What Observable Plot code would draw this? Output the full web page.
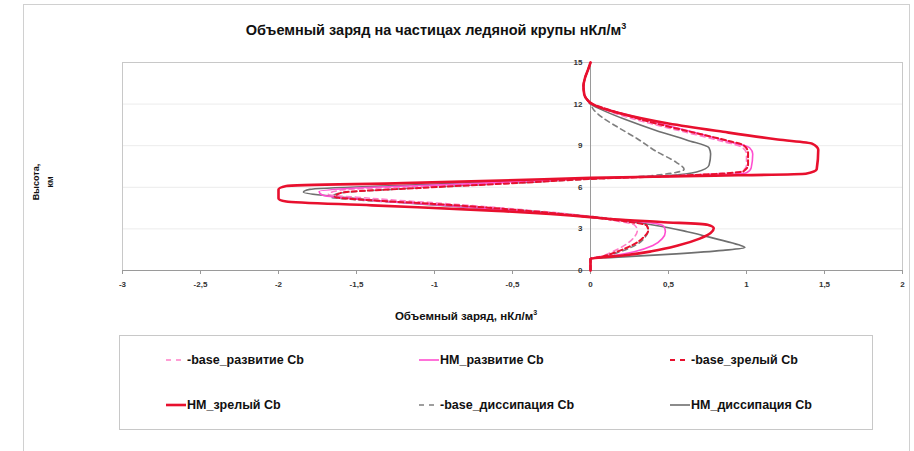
<!DOCTYPE html>
<html><head><meta charset="utf-8">
<script src="https://cdn.jsdelivr.net/npm/d3@7"></script>
<script src="https://cdn.jsdelivr.net/npm/@observablehq/plot@0.6"></script>
<style>
body{margin:0;background:#fff;font-family:"Liberation Sans",Arial,sans-serif;}
#wrap{position:relative;width:914px;height:451px;overflow:hidden;}
#border{position:absolute;left:23px;top:4px;width:885px;height:460px;border:1px solid #d0d0d0;}
#title{position:absolute;left:0;width:872px;top:21px;text-align:center;font-weight:bold;font-size:14.5px;color:#111;}
#chart{position:absolute;left:0;top:0;}
#xtitle{position:absolute;left:0;width:932px;top:309px;text-align:center;font-weight:bold;font-size:11.5px;color:#111;}
#ytitle{position:absolute;left:22px;top:160px;width:40px;height:45px;}
#legend{position:absolute;left:119px;top:335px;width:752px;height:93px;border:1px solid #c8c8c8;}
.item{position:absolute;font-weight:bold;font-size:12.5px;color:#111;white-space:nowrap;display:flex;align-items:center;}
.item svg{margin-right:1px;}
</style></head>
<body><div id="wrap">
<div id="border"></div>
<div id="chart"></div>
<div id="title">Объемный заряд на частицах ледяной крупы нКл/м<sup style="font-size:9px">3</sup></div>
<div id="xtitle">Объемный заряд, нКл/м<sup style="font-size:7px">3</sup></div>
<svg id="ytitle" width="40" height="60"><text transform="translate(17,22) rotate(-90)" text-anchor="middle" font-weight="bold" font-size="9" fill="#111">Высота,</text><text transform="translate(31,22) rotate(-90)" text-anchor="middle" font-weight="bold" font-size="9" fill="#111">км</text></svg>
<div id="legend"></div>
</div>
<script>
const xTicks = [-3,-2.5,-2,-1.5,-1,-0.5,0,0.5,1,1.5,2];
const yTicks = [0,3,6,9,12,15];
const seriesNames = ["base_развитие Cb","HM_развитие Cb","base_зрелый Cb","HM_зрелый Cb","base_диссипация Cb","HM_диссипация Cb"];

// [value nC/m3, height km]
const topTail = [[-0.02,12.3],[-0.04,12.7],[-0.045,13.3],[-0.035,13.9],[-0.015,14.5],[0,15]];
const baseDev = [[0,0],[0,0.85],[0.06,1.0],[0.15,1.4],[0.23,1.9],[0.28,2.4],[0.3,2.9],[0.28,3.3],[0.15,3.6],[0,3.9],[-0.35,4.3],[-0.9,4.8],[-1.4,5.2],[-1.68,5.5],[-1.6,5.8],[-1.0,6.1],[-0.3,6.45],[0,6.65],[0.55,6.85],[0.97,7.15],[1.0,7.6],[1.0,8.4],[0.97,8.9],[0.85,9.3],[0.6,10.0],[0.35,10.7],[0.14,11.4],[0.03,11.9],[0,12.1]];
const hmDev = [[0,0],[0,0.85],[0.1,1.0],[0.28,1.35],[0.4,1.8],[0.46,2.3],[0.48,2.8],[0.47,3.2],[0.38,3.45],[0.15,3.7],[0,3.85],[-0.4,4.25],[-1.0,4.75],[-1.5,5.15],[-1.72,5.45],[-1.74,5.7],[-1.5,5.95],[-0.8,6.25],[-0.2,6.55],[0,6.65],[0.6,6.8],[1.0,7.05],[1.03,7.4],[1.04,8.4],[1.02,8.85],[0.92,9.2],[0.72,9.8],[0.48,10.5],[0.25,11.2],[0.08,11.7],[0,12.05]];
const baseMature = [[0,0],[0,0.85],[0.07,1.0],[0.18,1.4],[0.28,1.9],[0.34,2.4],[0.37,2.9],[0.36,3.25],[0.22,3.55],[0,3.85],[-0.4,4.3],[-1.0,4.8],[-1.45,5.1],[-1.64,5.3],[-1.6,5.6],[-1.1,5.95],[-0.4,6.35],[0,6.6],[0.6,6.85],[0.98,7.15],[1.01,7.6],[1.01,8.5],[0.98,9.05],[0.9,9.3],[0.68,9.9],[0.42,10.6],[0.2,11.3],[0.05,11.85],[0,12.05]];
const hmMature = [[0,0],[0,0.85],[0.08,0.95],[0.22,1.1],[0.4,1.4],[0.56,1.8],[0.7,2.3],[0.77,2.7],[0.79,3.05],[0.75,3.3],[0.45,3.5],[0.15,3.7],[0,3.85],[-0.6,4.3],[-1.4,4.7],[-1.95,4.98],[-2.0,5.2],[-2.0,5.85],[-1.95,6.1],[-1.2,6.3],[-0.3,6.58],[0,6.68],[0.7,6.82],[1.38,6.98],[1.45,7.3],[1.46,8.7],[1.42,9.15],[1.2,9.45],[0.85,10.0],[0.5,10.6],[0.2,11.3],[0.05,11.8],[0,12.1]];
const baseDiss = [[0,0],[0,0.85],[0.08,1.0],[0.2,1.4],[0.3,1.9],[0.35,2.4],[0.37,2.9],[0.36,3.3],[0.22,3.6],[0,3.9],[-0.45,4.35],[-1.05,4.8],[-1.5,5.1],[-1.66,5.28],[-1.62,5.55],[-1.2,5.9],[-0.5,6.3],[0,6.6],[0.4,6.85],[0.6,7.3],[0.55,7.8],[0.42,8.6],[0.3,9.5],[0.18,10.3],[0.08,11.0],[0.02,11.6],[0,12.0]];
const hmDiss = [[0,0],[0,0.85],[0.15,0.95],[0.55,1.2],[0.85,1.45],[0.99,1.65],[0.95,1.85],[0.8,2.3],[0.62,2.8],[0.42,3.25],[0.2,3.6],[0,3.85],[-0.45,4.3],[-1.1,4.8],[-1.6,5.3],[-1.84,5.65],[-1.8,5.85],[-1.2,6.15],[-0.4,6.5],[0,6.65],[0.5,6.85],[0.68,7.1],[0.76,7.6],[0.77,8.4],[0.76,8.85],[0.62,9.4],[0.42,10.1],[0.22,10.9],[0.07,11.6],[0,12.0]];

const styles = [
  {data: baseDev, stroke: "#ff7fc8", width: 1.6, dash: "5,4"},
  {data: hmDev, stroke: "#ff4fd0", width: 1.6, dash: null},
  {data: baseMature, stroke: "#e8102e", width: 2, dash: "5,3"},
  {data: hmMature, stroke: "#e8102e", width: 2.6, dash: null},
  {data: baseDiss, stroke: "#7f7f7f", width: 1.6, dash: "5,4"},
  {data: hmDiss, stroke: "#6f6f6f", width: 1.6, dash: null}
];
const drawOrder = [4,5,0,1,2,3];

const fmt = d => String(d).replace(".", ",");

const marks = [
  Plot.ruleY(yTicks.filter(d => d > 0 && d < 15), {stroke: "#ececec"}),
  Plot.frame({stroke: "#c8c8c8"}),
  Plot.ruleX([0], {stroke: "#9a9a9a"}),
  Plot.ruleY([0], {stroke: "#9a9a9a"}),
  Plot.text(yTicks, {x: 0, y: d => d, text: d => fmt(d), dx: -8, textAnchor: "end", fontSize: 8, fill: "#333"}),
  Plot.link(yTicks, {x1: 0, x2: 0, y1: d => d, y2: d => d, dx: -3, stroke: "#999"}),
  Plot.axisX({ticks: xTicks, tickFormat: fmt, tickSize: 4, tickPadding: 7, fontSize: 8, stroke: "#999", color: "#333", label: null})
];
for (const i of drawOrder) {
  const s = styles[i];
  marks.push(Plot.line(s.data.concat(topTail), {x: d => d[0], y: d => d[1], stroke: s.stroke, strokeWidth: s.width, strokeDasharray: s.dash, curve: "monotone-y"}));
}

const chart = Plot.plot({
  width: 914, height: 300,
  marginLeft: 122, marginRight: 12, marginTop: 62, marginBottom: 30,
  x: {type: "linear", domain: [-3, 2], axis: null},
  y: {type: "linear", domain: [0, 15], axis: null},
  style: {background: "transparent", fontFamily: "Liberation Sans, Arial, sans-serif", fontWeight: "bold"},
  marks
});
document.getElementById("chart").appendChild(chart);

// legend
const legendPos = [[46,26],[299,26],[550,26],[46,71],[299,71],[550,71]];
const legend = document.getElementById("legend");
seriesNames.forEach((name, i) => {
  const s = styles[i];
  const [lx, ly] = legendPos[i];
  const div = document.createElement("div");
  div.className = "item";
  div.style.left = lx + "px";
  div.style.top = (ly - 9) + "px";
  const w = 20;
  const svg = d3.create("svg").attr("width", w).attr("height", 10);
  svg.append("line").attr("x1", 0).attr("x2", w).attr("y1", 5).attr("y2", 5)
    .attr("stroke", s.stroke).attr("stroke-width", s.width).attr("stroke-dasharray", s.dash ? "5,5" : null);
  div.appendChild(svg.node());
  const t = document.createElement("span");
  t.textContent = (s.dash ? "-" : "") + name;
  div.appendChild(t);
  legend.appendChild(div);
});
</script>
</body></html>
